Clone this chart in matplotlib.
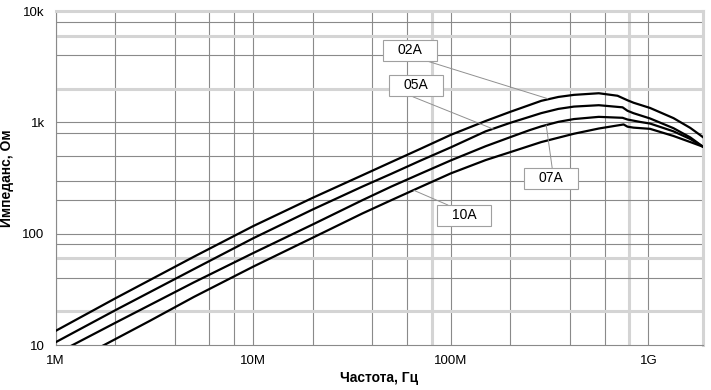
import matplotlib
matplotlib.use("Agg")
import matplotlib.pyplot as plt
from matplotlib.patches import Rectangle

plt.rcParams['font.family'] = ['Liberation Sans', 'DejaVu Sans']

# impedance curves (Hz, Ohm)
f_02A = [1e6, 2e6, 5e6, 10e6, 20e6, 35.7e6, 50e6, 70e6, 100e6, 150e6, 200e6, 250e6, 287e6,
         350e6, 420e6, 561e6, 698e6, 784e6, 841e6, 1.02e9, 1.34e9, 1.63e9, 1.89e9]
z_02A = [13.4, 26.2, 62, 117, 210, 335, 440, 577, 772, 1028, 1243, 1430, 1560,
         1690, 1765, 1825, 1733, 1578, 1500, 1346, 1091, 891, 736]

f_05A = [1e6, 2e6, 5e6, 10e6, 20e6, 35.7e6, 50e6, 70e6, 100e6, 150e6, 200e6, 250e6, 287e6,
         350e6, 420e6, 561e6, 740e6, 784e6, 841e6, 1.02e9, 1.34e9, 1.63e9, 1.89e9]
z_05A = [10.6, 20.5, 48, 91, 165, 265, 345, 452, 596, 830, 990, 1120, 1210,
         1320, 1385, 1425, 1364, 1270, 1208, 1083, 886, 732, 604]

f_07A = [1e6, 1.22e6, 2e6, 5e6, 10e6, 20e6, 35.7e6, 50e6, 70e6, 100e6, 150e6, 200e6, 250e6,
         287e6, 350e6, 420e6, 561e6, 740e6, 784e6, 912e6, 1.02e9, 1.34e9, 1.63e9, 1.89e9]
z_07A = [8.3, 10, 15.8, 36.5, 67, 121, 200, 265, 345, 455, 610, 736, 850,
         920, 1010, 1070, 1120, 1098, 1060, 1007, 975, 830, 708, 604]

f_10A = [1.5e6, 1.76e6, 3e6, 5e6, 10e6, 20e6, 35.7e6, 50e6, 70e6, 100e6, 150e6, 200e6, 287e6,
         420e6, 561e6, 749e6, 784e6, 841e6, 1.02e9, 1.34e9, 1.63e9, 1.89e9]
z_10A = [8.7, 10, 16.5, 27, 50.6, 92, 152, 200, 262, 348, 458, 540, 665,
         790, 880, 957, 914, 896, 874, 754, 665, 604]

series = [("02A", f_02A, z_02A), ("05A", f_05A, z_05A),
          ("07A", f_07A, z_07A), ("10A", f_10A, z_10A)]

# callouts: label, point on curve (data), box centre and leader start (axes fraction)
callouts = [("02A", (310e6, 1630), (0.547, 0.882), (0.574, 0.850)),
            ("05A", (164e6, 870), (0.557, 0.777), (0.552, 0.743)),
            ("07A", (304e6, 945), (0.765, 0.499), (0.767, 0.530)),
            ("10A", (65e6, 245), (0.631, 0.388), (0.606, 0.419))]

x_ticks = [1e6, 1e7, 1e8, 1e9]
x_labels = ["1M", "10M", "100M", "1G"]
y_ticks = [10, 100, 1000, 10000]
y_labels = ["10", "100", "1k", "10k"]

DARK = "#8a8a8a"
LIGHT = "#d4d4d4"

fig = plt.figure(figsize=(7.11, 3.90), dpi=100)
ax = fig.add_axes([55.7 / 711, 45 / 390, (703 - 55.7) / 711, 334 / 390])
ax.set_xscale("log"); ax.set_yscale("log")
ax.set_xlim(1e6, 1.89e9); ax.set_ylim(10, 10000)

# grid (the scanned original has a few lighter, thicker lines)
for d in (1e6, 1e7, 1e8):
    for m in (1, 2, 4, 6, 8):
        v = m * d
        light = v in (8e7, 8e8)
        ax.axvline(v, color=LIGHT if light else DARK, lw=2.2 if light else 0.8, zorder=1)
ax.axvline(1e9, color=DARK, lw=0.8, zorder=1)
for v, light in [(20, 1), (40, 0), (60, 1), (80, 0), (100, 0), (200, 0), (300, 0), (500, 0), (800, 0),
                 (1000, 0), (2000, 1), (4000, 0), (6000, 1), (8000, 0)]:
    ax.axhline(v, color=LIGHT if light else DARK, lw=2.2 if light else 0.8, zorder=1)

for name, f, z in series:
    ax.plot(f, z, color="black", lw=1.6, zorder=3)

for name, pt, box, start in callouts:
    ax.annotate("", xy=pt, xycoords="data", xytext=start, textcoords="axes fraction",
                arrowprops=dict(arrowstyle="-", color="#909090", lw=0.7, shrinkA=0, shrinkB=0),
                zorder=4)
    w, h = 54 / 647.3, 21 / 334
    ax.add_patch(Rectangle((box[0] - w / 2, box[1] - h / 2), w, h, transform=ax.transAxes,
                           facecolor="white", edgecolor="#a0a0a0", lw=0.8, zorder=5))
    ax.text(box[0], box[1], name, transform=ax.transAxes, ha="center", va="center",
            fontsize=10, zorder=6)

ax.set_xticks(x_ticks); ax.set_xticklabels(x_labels)
ax.set_yticks(y_ticks); ax.set_yticklabels(y_labels)
ax.minorticks_off()
ax.tick_params(length=0, labelsize=9.5, pad=7)
ax.tick_params(axis="y", pad=8)

for s in ("left", "bottom"):
    ax.spines[s].set_color(DARK); ax.spines[s].set_linewidth(0.8)
for s in ("top", "right"):
    ax.spines[s].set_color(LIGHT); ax.spines[s].set_linewidth(2.2)

ax.set_xlabel("Частота, Гц", fontsize=10, fontweight="bold", labelpad=3)
ax.set_ylabel("Импеданс, Ом", fontsize=10, fontweight="bold", labelpad=6)

fig.savefig("out.png", dpi=100)
